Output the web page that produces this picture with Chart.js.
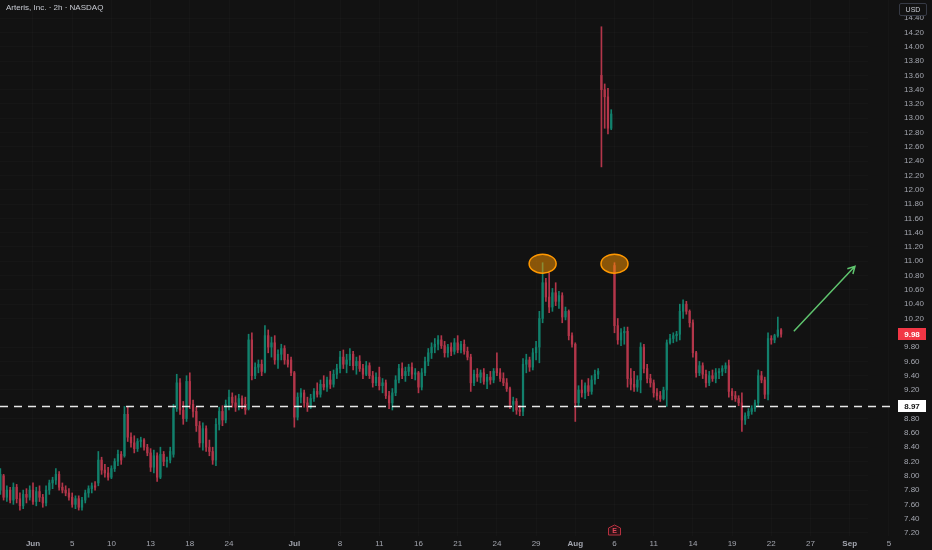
<!DOCTYPE html>
<html>
<head>
<meta charset="utf-8">
<script src="https://cdn.jsdelivr.net/npm/chart.js@4.4.1/dist/chart.umd.min.js"></script>
<style>
  html, body { margin: 0; padding: 0; background: #121212; }
  #wrap { position: relative; width: 932px; height: 550px; }
  #title { position: absolute; left: 6px; top: 3px; font: 8px "Liberation Sans", Arial, sans-serif; color: #c8cbd3; }
  #usd { position: absolute; left: 899px; top: 3px; width: 26px; height: 11px; border: 1px solid #363a45; border-radius: 2px;
         font: 7px "Liberation Sans", Arial, sans-serif; color: #c8cbd3; text-align: center; line-height: 11px; }
</style>
</head>
<body>
<div id="wrap">
  <canvas id="myChart"></canvas>
  <div id="title">Arteris, Inc. · 2h · NASDAQ</div>
  <div id="usd">USD</div>
</div>
<script>
// 2h candles, index 0 = first bar on screen
const opens = [
  7.80,8.00,7.70,7.80,7.66,7.84,7.68,7.58,7.74,7.70,
  7.80,7.64,7.78,7.70,7.62,7.80,7.90,7.94,8.02,7.84,
  7.80,7.76,7.70,7.60,7.68,7.56,7.66,7.76,7.82,7.86,
  7.90,8.22,8.08,8.04,7.98,8.10,8.20,8.30,8.28,8.86,
  8.54,8.46,8.38,8.48,8.50,8.40,8.32,8.12,8.28,7.98,
  8.30,8.20,8.22,8.30,8.94,9.30,8.92,8.80,9.32,9.00,
  8.90,8.70,8.46,8.66,8.40,8.34,8.22,8.72,8.90,8.78,
  9.00,9.10,9.02,8.96,9.08,9.00,8.94,9.90,9.40,9.52,
  9.56,9.46,9.96,9.80,9.86,9.62,9.70,9.78,9.62,9.62,
  9.44,8.82,9.10,9.16,9.02,8.96,9.08,9.18,9.14,9.28,
  9.24,9.34,9.28,9.42,9.50,9.66,9.56,9.62,9.70,9.54,
  9.60,9.50,9.42,9.54,9.40,9.30,9.38,9.26,9.30,9.12,
  9.02,9.16,9.34,9.50,9.40,9.46,9.52,9.42,9.44,9.24,
  9.44,9.60,9.72,9.80,9.84,9.90,9.82,9.72,9.80,9.74,
  9.86,9.76,9.84,9.74,9.66,9.30,9.42,9.38,9.44,9.32,
  9.38,9.34,9.50,9.44,9.36,9.30,9.22,9.00,9.04,8.92,
  8.90,9.56,9.62,9.52,9.72,9.80,10.20,10.70,10.50,10.36,
  10.56,10.44,10.52,10.22,10.30,9.96,9.84,9.02,9.20,9.16,
  9.26,9.18,9.34,9.42,13.60,13.40,13.30,12.86,10.94,10.10,
  9.90,10.00,10.02,9.36,9.28,9.24,9.34,9.80,9.50,9.36,
  9.30,9.16,9.12,9.08,9.20,9.86,9.92,9.96,9.98,10.30,
  10.40,10.30,10.14,9.72,9.44,9.54,9.42,9.30,9.40,9.36,
  9.44,9.46,9.50,9.54,9.18,9.12,9.08,9.02,8.78,8.84,
  8.90,8.94,9.02,9.40,9.34,9.14,9.92,9.90,9.96,10.04
];
const highs = [
  8.10,8.02,7.86,7.84,7.90,7.88,7.76,7.80,7.82,7.86,
  7.90,7.84,7.86,7.74,7.86,7.94,7.98,8.10,8.06,7.90,
  7.86,7.82,7.76,7.72,7.72,7.70,7.80,7.86,7.90,7.92,
  8.34,8.26,8.16,8.12,8.14,8.24,8.36,8.34,8.97,8.96,
  8.60,8.56,8.52,8.54,8.52,8.44,8.38,8.36,8.32,8.40,
  8.34,8.26,8.40,9.00,9.42,9.36,9.04,9.40,9.44,9.06,
  8.96,8.76,8.74,8.70,8.50,8.40,8.80,8.96,8.98,9.06,
  9.20,9.16,9.12,9.14,9.12,9.10,9.98,10.00,9.58,9.62,
  9.62,10.10,10.04,9.94,9.96,9.76,9.84,9.82,9.70,9.66,
  9.46,9.16,9.22,9.20,9.10,9.14,9.22,9.30,9.34,9.40,
  9.38,9.46,9.48,9.56,9.74,9.76,9.70,9.78,9.74,9.66,
  9.68,9.56,9.60,9.58,9.46,9.44,9.52,9.36,9.34,9.18,
  9.22,9.40,9.56,9.58,9.52,9.56,9.58,9.50,9.46,9.50,
  9.66,9.78,9.86,9.92,9.96,9.96,9.88,9.84,9.86,9.92,
  9.96,9.88,9.90,9.80,9.70,9.48,9.50,9.48,9.50,9.42,
  9.46,9.50,9.72,9.50,9.44,9.36,9.24,9.10,9.08,8.98,
  9.64,9.70,9.66,9.78,9.88,10.30,10.98,10.76,10.84,10.62,
  10.70,10.58,10.56,10.36,10.32,10.00,9.86,9.26,9.34,9.30,
  9.36,9.40,9.48,9.50,14.28,13.48,13.42,13.12,10.98,10.20,
  10.06,10.08,10.08,9.50,9.46,9.40,9.86,9.84,9.56,9.42,
  9.34,9.22,9.18,9.24,9.90,9.98,10.00,10.02,10.40,10.46,
  10.44,10.32,10.18,9.74,9.60,9.58,9.48,9.46,9.48,9.50,
  9.50,9.54,9.58,9.62,9.22,9.18,9.12,9.16,8.88,8.94,
  8.98,9.06,9.48,9.46,9.38,10.00,9.96,9.98,10.22,10.06
];
const lows = [
  7.74,7.66,7.64,7.62,7.60,7.62,7.52,7.54,7.62,7.66,
  7.60,7.58,7.64,7.56,7.58,7.74,7.82,7.88,7.80,7.76,
  7.72,7.66,7.56,7.54,7.52,7.52,7.62,7.70,7.76,7.80,
  7.86,8.02,7.98,7.94,7.96,8.06,8.14,8.16,8.26,8.48,
  8.40,8.32,8.34,8.40,8.36,8.28,8.06,8.04,7.92,7.96,
  8.14,8.12,8.18,8.26,8.90,8.86,8.72,8.76,8.94,8.82,
  8.62,8.40,8.36,8.34,8.28,8.16,8.14,8.64,8.70,8.74,
  8.92,8.96,8.90,8.92,8.94,8.86,8.92,9.34,9.36,9.44,
  9.40,9.44,9.72,9.66,9.56,9.50,9.62,9.56,9.52,9.40,
  8.68,8.78,9.02,8.96,8.90,8.94,9.04,9.10,9.10,9.20,
  9.18,9.22,9.24,9.36,9.44,9.50,9.44,9.54,9.48,9.42,
  9.46,9.36,9.40,9.36,9.24,9.26,9.20,9.16,9.08,8.94,
  8.92,9.12,9.30,9.36,9.32,9.40,9.36,9.34,9.16,9.20,
  9.40,9.54,9.64,9.72,9.76,9.78,9.66,9.66,9.68,9.70,
  9.72,9.72,9.70,9.62,9.18,9.26,9.32,9.30,9.28,9.22,
  9.28,9.30,9.40,9.32,9.26,9.18,8.94,8.90,8.86,8.84,
  8.84,9.44,9.46,9.48,9.62,9.58,10.14,10.44,10.28,10.30,
  10.38,10.34,10.14,10.18,9.90,9.80,8.76,8.98,9.10,9.08,
  9.12,9.14,9.28,9.36,12.32,12.86,12.78,12.84,10.00,9.84,
  9.82,9.84,9.24,9.20,9.18,9.18,9.16,9.44,9.30,9.24,
  9.10,9.06,9.04,9.06,8.97,9.84,9.86,9.88,9.90,10.20,
  10.26,10.08,9.66,9.38,9.40,9.36,9.24,9.26,9.32,9.30,
  9.36,9.40,9.44,9.10,9.06,9.04,8.98,8.62,8.72,8.80,
  8.86,8.90,8.98,9.30,9.08,9.06,9.84,9.86,9.94,9.94
];
const closes = [
  8.02,7.70,7.80,7.66,7.84,7.68,7.58,7.74,7.70,7.80,
  7.64,7.78,7.70,7.62,7.80,7.90,7.94,8.02,7.84,7.80,
  7.76,7.70,7.60,7.68,7.56,7.66,7.76,7.82,7.86,7.84,
  8.22,8.08,8.04,7.98,8.10,8.20,8.30,8.22,8.86,8.54,
  8.46,8.38,8.48,8.50,8.40,8.32,8.12,8.28,7.98,8.30,
  8.20,8.22,8.34,8.94,9.30,8.92,8.80,9.32,9.00,8.90,
  8.70,8.46,8.66,8.40,8.34,8.22,8.72,8.90,8.78,9.00,
  9.10,9.02,8.96,9.08,9.00,8.92,9.90,9.40,9.52,9.56,
  9.46,9.96,9.80,9.86,9.62,9.70,9.78,9.62,9.56,9.44,
  8.82,9.10,9.16,9.02,8.96,9.08,9.18,9.14,9.28,9.24,
  9.34,9.28,9.42,9.50,9.66,9.56,9.62,9.70,9.54,9.60,
  9.50,9.42,9.54,9.40,9.30,9.38,9.26,9.30,9.12,9.02,
  9.16,9.34,9.50,9.40,9.46,9.52,9.42,9.44,9.24,9.44,
  9.60,9.72,9.80,9.84,9.90,9.82,9.72,9.80,9.74,9.86,
  9.76,9.84,9.74,9.66,9.30,9.42,9.38,9.44,9.32,9.38,
  9.34,9.46,9.44,9.36,9.30,9.22,9.00,9.04,8.92,8.90,
  9.56,9.62,9.52,9.72,9.80,10.20,10.70,10.50,10.36,10.56,
  10.44,10.52,10.22,10.30,9.96,9.84,9.02,9.20,9.16,9.26,
  9.18,9.34,9.42,9.46,13.40,13.30,12.86,13.06,10.10,9.90,
  10.00,10.02,9.36,9.28,9.24,9.34,9.80,9.50,9.36,9.30,
  9.16,9.12,9.08,9.20,9.86,9.92,9.96,9.98,10.30,10.40,
  10.30,10.14,9.72,9.44,9.54,9.42,9.30,9.40,9.36,9.44,
  9.46,9.50,9.54,9.18,9.12,9.08,9.02,8.78,8.84,8.90,
  8.94,9.02,9.40,9.34,9.14,9.92,9.90,9.96,10.04,9.98
];

// time axis labels (bar index -> text)
const tickIdx  = [10, 22, 34, 46, 58, 70, 90, 104, 116, 128, 140, 152, 164, 176, 188, 200, 212, 224, 236, 248, 260, 272];
const tickText = ['Jun','5','10','13','18','24','Jul','8','11','16','21','24','29','Aug','6','11','14','19','22','27','Sep','5'];
const monthTicks = [10, 90, 176, 260];

// drawings
const levelPrice = 8.97;
const markIdx = [166, 188];
const earningsIdx = 188;
const arrowFrom = [242.9, 10.02];
const arrowTo = [261.6, 10.93];

const xMin = -0.1, xMax = 265.6;
const yMin = 7.158, yMax = 14.654;

const up = '#12806c';
const down = '#b3364a';
const FONT = '"Liberation Sans", Arial, sans-serif';

const lastPrice = closes[closes.length - 1];
const colors = opens.map((o, i) => closes[i] >= o ? up : down);
const wicks = opens.map((o, i) => ({x: i, y: [lows[i], highs[i]]}));
const bodies = opens.map((o, i) => ({x: i, y: [o, closes[i]]}));

function priceTag(ctx, yPix, text, bg, fg) {
    ctx.fillStyle = bg;
    ctx.fillRect(898, Math.round(yPix) - 6, 28, 12);
    ctx.fillStyle = fg;
    ctx.font = 'bold 8px ' + FONT;
    ctx.textAlign = 'center';
    ctx.textBaseline = 'middle';
    ctx.fillText(text, 912, Math.round(yPix) + 0.5);
}

const overlay = {
    id: 'overlay',
    afterDatasetsDraw(chart) {
        const {ctx, scales: {x, y}} = chart;
        ctx.save();
        // horizontal level
        const ly = Math.round(y.getPixelForValue(levelPrice)) + 0.5;
        ctx.strokeStyle = 'rgba(255,255,255,0.9)';
        ctx.lineWidth = 1.5;
        ctx.setLineDash([8, 6]);
        ctx.beginPath();
        ctx.moveTo(0, ly);
        ctx.lineTo(894, ly);
        ctx.stroke();
        ctx.setLineDash([]);

        // circled highs
        markIdx.forEach(i => {
            const cx = x.getPixelForValue(i);
            const cy = y.getPixelForValue(highs[i]) + 1;
            ctx.beginPath();
            ctx.ellipse(cx, cy, 13.5, 9.5, 0, 0, Math.PI * 2);
            ctx.fillStyle = 'rgba(255,152,0,0.5)';
            ctx.fill();
            ctx.strokeStyle = '#ff9800';
            ctx.lineWidth = 1.5;
            ctx.stroke();
        });

        // arrow
        const x1 = x.getPixelForValue(arrowFrom[0]), y1 = y.getPixelForValue(arrowFrom[1]);
        const x2 = x.getPixelForValue(arrowTo[0]), y2 = y.getPixelForValue(arrowTo[1]);
        const ang = Math.atan2(y2 - y1, x2 - x1);
        ctx.strokeStyle = '#5fc46e';
        ctx.lineWidth = 1.5;
        ctx.beginPath();
        ctx.moveTo(x1, y1);
        ctx.lineTo(x2, y2);
        ctx.moveTo(x2 - 8 * Math.cos(ang - 0.5), y2 - 8 * Math.sin(ang - 0.5));
        ctx.lineTo(x2, y2);
        ctx.lineTo(x2 - 8 * Math.cos(ang + 0.5), y2 - 8 * Math.sin(ang + 0.5));
        ctx.stroke();

        // earnings badge
        const ex = Math.round(x.getPixelForValue(earningsIdx)) + 0.5;
        const eb = chart.chartArea.bottom - 1;
        ctx.beginPath();
        ctx.moveTo(ex - 6, eb - 7);
        ctx.lineTo(ex, eb - 10);
        ctx.lineTo(ex + 6, eb - 7);
        ctx.lineTo(ex + 6, eb);
        ctx.lineTo(ex - 6, eb);
        ctx.closePath();
        ctx.fillStyle = '#2a1216';
        ctx.fill();
        ctx.strokeStyle = '#b3303f';
        ctx.lineWidth = 1;
        ctx.stroke();
        ctx.fillStyle = '#e0485a';
        ctx.font = 'bold 7px ' + FONT;
        ctx.textAlign = 'center';
        ctx.textBaseline = 'middle';
        ctx.fillText('E', ex, eb - 4);
        ctx.restore();
    },
    afterDraw(chart) {
        const {ctx, scales: {y}} = chart;
        ctx.save();
        priceTag(ctx, y.getPixelForValue(lastPrice), lastPrice.toFixed(2), '#f23645', '#ffffff');
        priceTag(ctx, y.getPixelForValue(levelPrice), levelPrice.toFixed(2), '#ffffff', '#131313');
        ctx.restore();
    }
};

const ctx = document.getElementById('myChart').getContext('2d');

const myChart = new Chart(ctx, {
    type: 'bar',
    data: {
        datasets: [{
            data: wicks,
            backgroundColor: colors,
            barThickness: 1,
            grouped: false,
            order: 2
        }, {
            data: bodies,
            backgroundColor: colors,
            barThickness: 1.6,
            minBarLength: 1,
            grouped: false,
            order: 1
        }]
    },
    options: {
        responsive: true,
        maintainAspectRatio: false,
        animation: false,
        layout: { padding: 0 },
        plugins: {
            legend: { display: false },
            tooltip: { enabled: false }
        },
        scales: {
            x: {
                type: 'linear',
                min: xMin,
                max: xMax,
                offset: false,
                grid: { offset: false, color: 'rgba(255,255,255,0.02)', drawTicks: false },
                border: { display: false },
                afterBuildTicks: (scale) => { scale.ticks = tickIdx.map(v => ({value: v})); },
                afterFit: (scale) => { scale.height = 14; scale.paddingLeft = 0; scale.paddingRight = 0; },
                ticks: {
                    autoSkip: false,
                    maxRotation: 0,
                    padding: 3,
                    color: '#a3a6af',
                    font: (c) => ({ family: FONT, size: 8, weight: (c.tick && monthTicks.includes(c.tick.value)) ? 'bold' : 'normal' }),
                    callback: (v) => {
                        const k = tickIdx.indexOf(v);
                        return k < 0 ? null : tickText[k];
                    }
                }
            },
            y: {
                position: 'right',
                min: yMin,
                max: yMax,
                grid: { color: 'rgba(255,255,255,0.02)', drawTicks: false },
                border: { display: false },
                afterFit: (scale) => { scale.width = 64; scale.paddingTop = 0; scale.paddingBottom = 0; },
                ticks: {
                    stepSize: 0.2,
                    includeBounds: false,
                    crossAlign: 'near',
                    padding: 36,
                    color: '#a3a6af',
                    font: { family: FONT, size: 8 },
                    callback: (v) => {
                        if (v > 14.5) return null;
                        if (Math.abs(v - lastPrice) < 0.07 || Math.abs(v - levelPrice) < 0.07) return null;
                        return v.toFixed(2);
                    }
                }
            }
        }
    },
    plugins: [overlay]
});
</script>
</body>
</html>
